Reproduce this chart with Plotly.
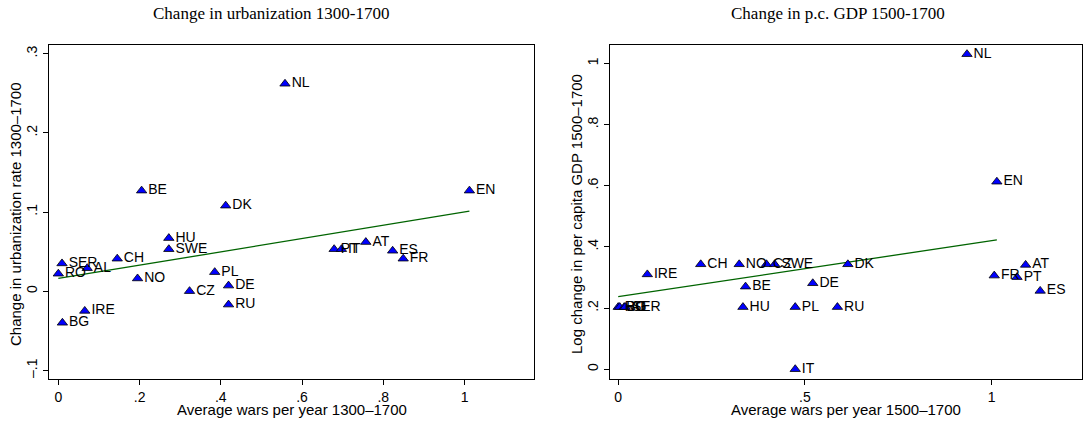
import plotly.graph_objects as go

# left panel: urbanization change 1300-1700 vs wars
urb_codes = ["NL", "EN", "DK", "BE", "HU", "SWE", "CH", "SER", "AL", "RO", "NO",
             "PL", "CZ", "DE", "RU", "IRE", "BG", "PT", "IT", "AT", "ES", "FR"]
urb_wars = [0.558, 1.012, 0.412, 0.205, 0.272, 0.272, 0.145, 0.009, 0.071, 0.0, 0.195,
            0.385, 0.323, 0.419, 0.419, 0.065, 0.010, 0.679, 0.697, 0.757, 0.823, 0.849]
urb_change = [0.262, 0.127, 0.108, 0.127, 0.067, 0.053, 0.041, 0.035, 0.029, 0.022, 0.016,
              0.024, 0.0, 0.007, -0.017, -0.025, -0.040, 0.053, 0.053, 0.062, 0.051, 0.041]
urb_fit_x = [0.0, 1.012]
urb_fit_y = [0.016, 0.101]

# right panel: log change in per capita GDP 1500-1700 vs wars
gdp_codes = ["NL", "EN", "DK", "AT", "FR", "PT", "ES", "DE", "RU", "PL", "IT",
             "HU", "BE", "CH", "NO", "CZ", "SWE", "IRE", "RO", "BG", "AL", "SER"]
gdp_wars = [0.934, 1.014, 0.615, 1.091, 1.007, 1.068, 1.130, 0.521, 0.587, 0.474, 0.474,
            0.334, 0.341, 0.221, 0.324, 0.397, 0.419, 0.078, 0.0, 0.004, 0.016, 0.019]
gdp_change = [1.030, 0.613, 0.343, 0.341, 0.306, 0.301, 0.256, 0.281, 0.203, 0.203, 0.0,
              0.203, 0.270, 0.343, 0.343, 0.343, 0.343, 0.310, 0.203, 0.203, 0.203, 0.203]
gdp_fit_x = [0.0, 1.014]
gdp_fit_y = [0.237, 0.423]

W, H = 1083, 423
LABEL_FONT = dict(family="Liberation Sans, Arial, sans-serif", size=14, color="black")
TICK_FONT = dict(family="Liberation Sans, Arial, sans-serif", size=14, color="black")

fig = go.Figure()

def add_panel(codes, xs, ys, fit_x, fit_y, xa, ya):
    fig.add_trace(go.Scatter(
        x=fit_x, y=fit_y, mode="lines", xaxis=xa, yaxis=ya,
        line=dict(color="#006400", width=1.3), hoverinfo="skip", showlegend=False))
    fig.add_trace(go.Scatter(
        x=xs, y=ys, text=codes, mode="markers+text", textposition="middle right",
        xaxis=xa, yaxis=ya, textfont=LABEL_FONT, showlegend=False,
        marker=dict(symbol="triangle-up", size=9, color="#0000ff",
                    line=dict(color="black", width=0.8))))

add_panel(urb_codes, urb_wars, urb_change, urb_fit_x, urb_fit_y, "x", "y")
add_panel(gdp_codes, gdp_wars, gdp_change, gdp_fit_x, gdp_fit_y, "x2", "y2")

ydom = [(H - 379) / H, (H - 45) / H]
axis_common = dict(showgrid=False, zeroline=False, showline=True, linecolor="black",
                   linewidth=1, mirror=True, ticks="outside", ticklen=5,
                   tickcolor="black", tickfont=TICK_FONT, tickmode="array")

fig.update_layout(
    width=W, height=H, margin=dict(l=0, r=0, t=0, b=0),
    paper_bgcolor="white", plot_bgcolor="white",
    xaxis=dict(axis_common, domain=[49 / W, 534 / W], range=[-0.023, 1.171],
               tickvals=[0, 0.2, 0.4, 0.6, 0.8, 1],
               ticktext=["0", ".2", ".4", ".6", ".8", "1"], anchor="y"),
    yaxis=dict(axis_common, domain=ydom, range=[-0.111, 0.311], tickangle=-90,
               tickvals=[-0.1, 0, 0.1, 0.2, 0.3],
               ticktext=["\u2013.1", "0", ".1", ".2", ".3"], anchor="x"),
    xaxis2=dict(axis_common, domain=[610 / W, 1082 / W], range=[-0.022, 1.242],
                tickvals=[0, 0.5, 1], ticktext=["0", ".5", "1"], anchor="y2"),
    yaxis2=dict(axis_common, domain=ydom, range=[-0.032, 1.06], tickangle=-90,
                tickvals=[0, 0.2, 0.4, 0.6, 0.8, 1],
                ticktext=["0", ".2", ".4", ".6", ".8", "1"], anchor="x2"),
)

TITLE_FONT = dict(family="Liberation Serif, Times New Roman, serif", size=17, color="black")
AXT_FONT = dict(family="Liberation Sans, Arial, sans-serif", size=15, color="black")

annotations = [
    dict(text="Change in urbanization 1300-1700", x=271 / W, y=1 - 13 / H, font=TITLE_FONT),
    dict(text="Change in p.c. GDP 1500-1700", x=838 / W, y=1 - 13 / H, font=TITLE_FONT),
    dict(text="Average wars per year 1300\u20131700", x=291.5 / W, y=1 - 409 / H, font=AXT_FONT),
    dict(text="Average wars per year 1500\u20131700", x=846 / W, y=1 - 409 / H, font=AXT_FONT),
    dict(text="Change in urbanization rate 1300\u20131700", x=16 / W, y=1 - 214 / H,
         textangle=-90, font=AXT_FONT),
    dict(text="Log change in per capita GDP 1500\u20131700", x=577 / W, y=1 - 214 / H,
         textangle=-90, font=AXT_FONT),
]
for a in annotations:
    fig.add_annotation(xref="paper", yref="paper", showarrow=False,
                       xanchor="center", yanchor="middle", **a)

# page margin off so the figure sits at the window's corner
fig.write_html("out.html", config={"displayModeBar": False},
               post_script="document.body.style.margin='0';document.body.style.overflow='hidden';")
